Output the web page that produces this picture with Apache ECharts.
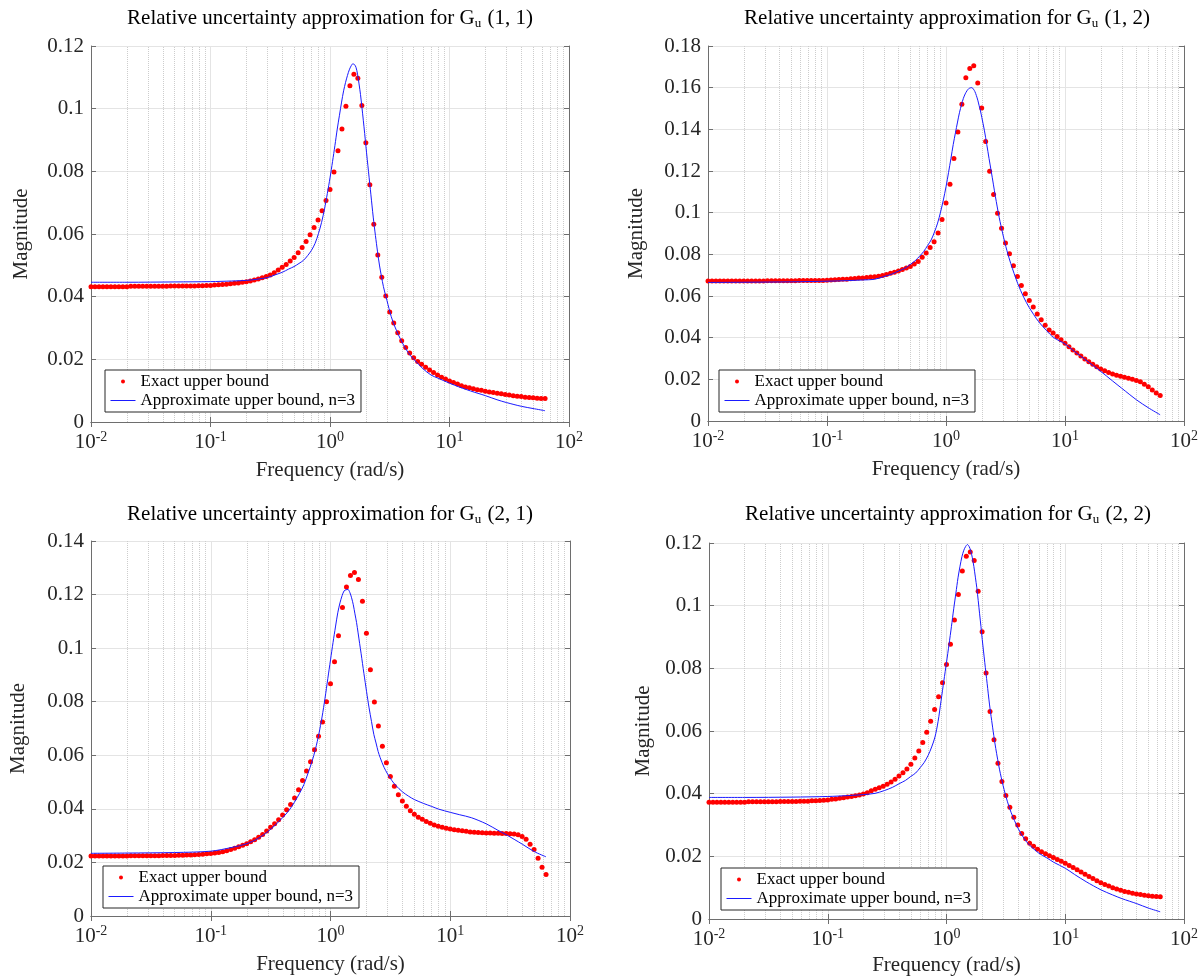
<!DOCTYPE html>
<html>
<head>
<meta charset="utf-8">
<script src="https://cdn.jsdelivr.net/npm/echarts@6/dist/echarts.min.js"></script>
<style>
html,body{margin:0;padding:0;background:#ffffff;}
#chart{width:1201px;height:979px;}
</style>
</head>
<body>
<div id="chart"></div>
<script>
// ---------- data ----------
// frequencies of the "exact" dots (rad/s)
const freqExact = [
0.01,0.0108,0.01166,0.01259,0.01359,0.01468,0.01585,0.01711,0.01848,0.01995,
0.02154,0.02326,0.02512,0.02712,0.02929,0.03162,0.03415,0.03687,0.03981,0.04299,
0.04642,0.05012,0.05412,0.05843,0.0631,0.06813,0.07356,0.07943,0.08577,0.09261,
0.1,0.108,0.1166,0.1259,0.1359,0.1468,0.1585,0.1711,0.1848,0.1995,
0.2154,0.2326,0.2512,0.2712,0.2929,0.3162,0.3415,0.3687,0.3981,0.4299,
0.4642,0.5012,0.5412,0.5843,0.631,0.6813,0.7356,0.7943,0.8577,0.9261,
1,1.08,1.166,1.259,1.359,1.468,1.585,1.711,1.848,1.995,
2.154,2.326,2.512,2.712,2.929,3.162,3.415,3.687,3.981,4.299,
4.642,5.012,5.412,5.843,6.31,6.813,7.356,7.943,8.577,9.261,
10,10.8,11.66,12.59,13.59,14.68,15.85,17.11,18.48,19.95,
21.54,23.26,25.12,27.12,29.29,31.62,34.15,36.87,39.81,42.99,
46.42,50.12,54.12,58.43,63.1
];
// frequencies of the approximation curve (rad/s)
const freqApprox = [
0.01,0.02,0.05,0.1,0.15,0.2,0.25,0.3,0.35,0.4,0.45,0.5,0.55,0.6,0.65,0.7,0.75,0.8,0.85,0.9,0.95,
1.0,1.05,1.1,1.15,1.2,1.25,1.3,1.35,1.4,1.45,1.5,1.55,1.6,1.65,1.7,1.75,1.8,1.85,1.9,1.95,2.0,
2.1,2.2,2.3,2.4,2.5,2.6,
2.8,3.0,3.25,3.5,
4,4.5,5,
6,7,8,
10,12,15,20,25,30,40,50,63
];

const exact11 = [
0.0432,0.0432,0.0432,0.0432,0.0432,0.0432,0.0432,0.0432,0.0432,0.0432,
0.0433,0.0433,0.0433,0.0433,0.0433,0.0433,0.0433,0.0433,0.0433,0.0433,
0.0434,0.0434,0.0434,0.0434,0.0434,0.0434,0.0434,0.0435,0.0435,0.0436,
0.0436,0.0437,0.0438,0.0439,0.0440,0.0441,0.0443,0.0444,0.0446,0.0448,
0.0450,0.0453,0.0456,0.0460,0.0464,0.0469,0.0476,0.0485,0.0494,0.0503,
0.0514,0.0525,0.0540,0.0557,0.0576,0.0598,0.0621,0.0645,0.0674,0.0707,
0.0742,0.0798,0.0866,0.0935,0.1008,0.1073,0.1110,0.1097,0.1010,0.0891,
0.0757,0.0631,0.0533,0.0462,0.0402,0.0351,0.0316,0.0285,0.0259,0.0238,
0.0220,0.0205,0.0193,0.0184,0.0175,0.0166,0.0158,0.0150,0.0143,0.0137,
0.0131,0.0126,0.0121,0.0116,0.0112,0.0109,0.0106,0.0103,0.0101,0.0098,
0.0096,0.0094,0.0092,0.0090,0.0088,0.0086,0.0084,0.0082,0.0081,0.0079,
0.0078,0.0077,0.0076,0.0075,0.0075
];
const exact12 = [
0.0672,0.0672,0.0672,0.0672,0.0672,0.0672,0.0672,0.0672,0.0672,0.0672,
0.0672,0.0672,0.0672,0.0672,0.0672,0.0673,0.0673,0.0673,0.0673,0.0673,
0.0673,0.0673,0.0673,0.0674,0.0674,0.0674,0.0674,0.0675,0.0675,0.0675,
0.0676,0.0677,0.0678,0.0679,0.0680,0.0681,0.0683,0.0684,0.0686,0.0687,
0.0689,0.0691,0.0693,0.0695,0.0699,0.0703,0.0709,0.0714,0.0720,0.0727,
0.0734,0.0742,0.0754,0.0766,0.0786,0.0807,0.0833,0.0861,0.0903,0.0967,
0.1047,0.1136,0.1260,0.1387,0.1520,0.1648,0.1692,0.1705,0.1623,0.1502,
0.1342,0.1199,0.1087,0.0997,0.0925,0.0855,0.0803,0.0745,0.0694,0.0650,
0.0611,0.0578,0.0547,0.0514,0.0486,0.0460,0.0437,0.0423,0.0406,0.0390,
0.0373,0.0357,0.0341,0.0326,0.0312,0.0298,0.0285,0.0272,0.0261,0.0250,
0.0241,0.0233,0.0226,0.0220,0.0215,0.0210,0.0205,0.0200,0.0195,0.0188,
0.0177,0.0164,0.0149,0.0135,0.0123
];
const exact21 = [
0.0224,0.0224,0.0224,0.0224,0.0224,0.0224,0.0224,0.0224,0.0224,0.0224,
0.0225,0.0225,0.0225,0.0225,0.0225,0.0225,0.0225,0.0225,0.0226,0.0226,
0.0226,0.0226,0.0227,0.0227,0.0228,0.0228,0.0229,0.0230,0.0231,0.0232,
0.0233,0.0235,0.0237,0.0240,0.0244,0.0248,0.0253,0.0259,0.0264,0.0270,
0.0277,0.0285,0.0294,0.0304,0.0317,0.0331,0.0344,0.0359,0.0377,0.0397,
0.0416,0.0441,0.0471,0.0506,0.0541,0.0576,0.0621,0.0671,0.0724,0.0800,
0.0867,0.0949,0.1046,0.1152,0.1228,0.1271,0.1282,0.1256,0.1175,0.1056,
0.0919,0.0799,0.0709,0.0634,0.0572,0.0521,0.0484,0.0453,0.0429,0.0410,
0.0393,0.0380,0.0369,0.0361,0.0353,0.0346,0.0340,0.0335,0.0331,0.0328,
0.0325,0.0322,0.0320,0.0318,0.0316,0.0314,0.0313,0.0312,0.0311,0.0310,
0.0310,0.0309,0.0309,0.0308,0.0308,0.0307,0.0306,0.0303,0.0297,0.0287,
0.0268,0.0248,0.0216,0.0182,0.0155
];
const exact22 = [
0.0373,0.0373,0.0373,0.0373,0.0373,0.0373,0.0373,0.0373,0.0373,0.0373,
0.0374,0.0374,0.0374,0.0374,0.0374,0.0374,0.0374,0.0374,0.0375,0.0375,
0.0375,0.0375,0.0375,0.0376,0.0376,0.0376,0.0377,0.0377,0.0378,0.0379,
0.0380,0.0382,0.0383,0.0385,0.0387,0.0389,0.0391,0.0393,0.0396,0.0399,
0.0403,0.0409,0.0414,0.0419,0.0424,0.0430,0.0437,0.0446,0.0456,0.0467,
0.0479,0.0494,0.0514,0.0536,0.0563,0.0596,0.0631,0.0669,0.0709,0.0754,
0.0812,0.0877,0.0954,0.1036,0.1111,0.1158,0.1171,0.1144,0.1046,0.0917,
0.0785,0.0662,0.0572,0.0497,0.0439,0.0394,0.0357,0.0325,0.0300,0.0273,
0.0256,0.0242,0.0232,0.0223,0.0215,0.0208,0.0202,0.0196,0.0190,0.0184,
0.0178,0.0171,0.0164,0.0157,0.0150,0.0143,0.0136,0.0129,0.0122,0.0116,
0.0110,0.0105,0.0100,0.0096,0.0092,0.0088,0.0085,0.0082,0.0080,0.0078,
0.0076,0.0074,0.0073,0.0072,0.0071
];

const approx11 = [
0.0446,0.0446,0.0447,0.0448,0.0450,0.0452,0.0456,0.0461,0.0470,0.0478,0.0488,0.0496,0.0506,0.0516,0.0531,0.0548,0.0570,0.0601,0.0637,0.0680,0.0729,
0.0779,0.0831,0.0883,0.0935,0.0979,0.1021,0.1057,0.1084,0.1106,0.1124,0.1136,0.1143,0.1141,0.1132,0.1110,0.1079,0.1045,0.1004,0.0963,0.0921,0.0878,
0.0799,0.0725,0.0654,0.0595,0.0543,0.0498,
0.0432,0.0387,0.0337,0.0303,
0.0255,0.0222,0.0201,
0.0170,0.0150,0.0140,
0.0124,0.0112,0.0099,0.0084,0.0071,0.0062,0.0050,0.0043,0.0036
];
const approx12 = [
0.0665,0.0666,0.0668,0.0671,0.0674,0.0677,0.0680,0.0693,0.0705,0.0720,0.0733,0.0751,0.0769,0.0791,0.0814,0.0842,0.0869,0.0907,0.0950,0.1003,0.1061,
0.1124,0.1192,0.1260,0.1327,0.1383,0.1435,0.1482,0.1518,0.1549,0.1570,0.1585,0.1595,0.1599,0.1600,0.1593,0.1581,0.1562,0.1540,0.1513,0.1488,0.1457,
0.1396,0.1328,0.1260,0.1198,0.1137,0.1078,
0.0977,0.0898,0.0818,0.0756,
0.0661,0.0594,0.0545,
0.0477,0.0434,0.0401,
0.0370,0.0334,0.0292,0.0238,0.0193,0.0157,0.0101,0.0064,0.0030
];
const approx21 = [
0.0234,0.0235,0.0237,0.0242,0.0256,0.0270,0.0290,0.0315,0.0342,0.0368,0.0394,0.0425,0.0457,0.0491,0.0534,0.0576,0.0624,0.0680,0.0743,0.0813,0.0887,
0.0956,0.1021,0.1079,0.1132,0.1169,0.1196,0.1214,0.1218,0.1219,0.1208,0.1188,0.1162,0.1128,0.1096,0.1057,0.1018,0.0981,0.0943,0.0906,0.0872,0.0838,
0.0777,0.0726,0.0678,0.0646,0.0614,0.0591,
0.0555,0.0530,0.0506,0.0488,
0.0463,0.0447,0.0435,
0.0420,0.0409,0.0399,
0.0387,0.0378,0.0367,0.0344,0.0320,0.0301,0.0268,0.0241,0.0221
];
const approx22 = [
0.0388,0.0388,0.0389,0.0391,0.0394,0.0397,0.0401,0.0410,0.0420,0.0432,0.0442,0.0455,0.0466,0.0483,0.0500,0.0522,0.0549,0.0581,0.0631,0.0697,0.0760,
0.0819,0.0876,0.0933,0.0990,0.1040,0.1089,0.1126,0.1157,0.1177,0.1189,0.1195,0.1189,0.1175,0.1153,0.1125,0.1091,0.1057,0.1016,0.0974,0.0934,0.0892,
0.0819,0.0751,0.0686,0.0634,0.0586,0.0544,
0.0476,0.0425,0.0376,0.0340,
0.0290,0.0257,0.0236,
0.0210,0.0195,0.0181,
0.0162,0.0142,0.0119,0.0093,0.0077,0.0065,0.0049,0.0035,0.0023
];

const panelLabels = ['(1, 1)', '(1, 2)', '(2, 1)', '(2, 2)'];
const yMaxList = [0.12, 0.18, 0.14, 0.12];
const yStep = 0.02;
const xDecades = [0.01, 0.1, 1, 10, 100];
const minorX = [0.02,0.03,0.04,0.05,0.06,0.07,0.08,0.09,
                0.2,0.3,0.4,0.5,0.6,0.7,0.8,0.9,
                2,3,4,5,6,7,8,9,
                20,30,40,50,60,70,80,90];
const legendNames = ['Exact upper bound', 'Approximate upper bound, n=3'];
const xName = 'Frequency (rad/s)';
const yName = 'Magnitude';
const titlePrefix = 'Relative uncertainty approximation for G';

const exactSets = [exact11, exact12, exact21, exact22];
const approxSets = [approx11, approx12, approx21, approx22];

// ---------- layout & style ----------
const FONT = '"Liberation Serif", "Times New Roman", serif';
const TXT = '#262626';
const BOX = '#6e6e6e';
const RED = '#ff0000';
const BLUE = '#1a1aff';
const panels = [
  { left: 91,  top: 46,  width: 478, height: 376, tx: 330, ty: 6,   lx: 105, ly: 370, yGap: 59, xGap: 38 },
  { left: 708, top: 46,  width: 478, height: 375, tx: 947, ty: 6,   lx: 719, ly: 370, yGap: 61, xGap: 38 },
  { left: 91,  top: 541, width: 479, height: 375, tx: 330, ty: 502, lx: 103, ly: 866, yGap: 62, xGap: 38 },
  { left: 709, top: 543, width: 479, height: 376, tx: 948, ty: 502, lx: 721, ly: 868, yGap: 55, xGap: 36 }
];

const grids = [], xAxes = [], yAxes = [], series = [], titles = [], legends = [];
const xMin = xDecades[0], xMax = xDecades[xDecades.length - 1];

panels.forEach((p, i) => {
  grids.push({ left: p.left, top: p.top, width: p.width, height: p.height, containLabel: false });
  titles.push({
    text: titlePrefix + '{sub|u} ' + panelLabels[i],
    left: p.tx, top: p.ty, textAlign: 'center', padding: 0,
    textStyle: {
      fontFamily: FONT, fontSize: 21, fontWeight: 'normal', color: '#000', lineHeight: 24,
      rich: { sub: { fontFamily: FONT, fontSize: 13, color: '#000', verticalAlign: 'bottom', lineHeight: 13, padding: [0, 1, 0, 0] } }
    }
  });
  xAxes.push({
    type: 'log', logBase: 10, gridIndex: i, min: xMin, max: xMax, splitNumber: 4,
    name: xName, nameLocation: 'middle', nameGap: p.xGap,
    nameTextStyle: { fontFamily: FONT, fontSize: 21, color: TXT },
    axisLine: { show: true, lineStyle: { color: BOX, width: 1 } },
    axisTick: { show: true, inside: true, length: 5, lineStyle: { color: BOX } },
    axisLabel: {
      margin: 8,
      formatter: v => '{b|10}{s|' + Math.round(Math.log10(v)) + '}',
      rich: {
        b: { fontFamily: FONT, fontSize: 21, color: TXT, lineHeight: 24 },
        s: { fontFamily: FONT, fontSize: 14, color: TXT, verticalAlign: 'top', lineHeight: 14 }
      }
    },
    splitLine: { show: true, lineStyle: { color: '#e4e4e4', width: 1 } }
  });
  yAxes.push({
    type: 'value', gridIndex: i, min: 0, max: yMaxList[i], interval: yStep,
    name: yName, nameLocation: 'middle', nameRotate: 90, nameGap: p.yGap,
    nameTextStyle: { fontFamily: FONT, fontSize: 21, color: TXT },
    axisLine: { show: true, lineStyle: { color: BOX, width: 1 } },
    axisTick: { show: true, inside: true, length: 5, lineStyle: { color: BOX } },
    axisLabel: { margin: 7, fontFamily: FONT, fontSize: 21, color: TXT },
    splitLine: { show: true, lineStyle: { color: '#e4e4e4', width: 1 } }
  });
  legends.push({
    orient: 'vertical', left: p.lx, top: p.ly, z: 10,
    itemWidth: 25, itemHeight: 4, itemGap: 2,
    padding: [3, 6, 3, 5],
    borderColor: '#262626', borderWidth: 1, backgroundColor: '#ffffff',
    selectedMode: false,
    lineStyle: { color: BLUE, width: 1 },
    textStyle: { fontFamily: FONT, fontSize: 17, color: '#000', lineHeight: 17 },
    data: [
      { name: legendNames[0], itemStyle: { color: RED, opacity: 1 } },
      { name: legendNames[1], itemStyle: { color: 'rgba(0,0,0,0)', borderWidth: 0 }, lineStyle: { color: BLUE, width: 1 } }
    ]
  });
});
// box: top and right axes (no labels)
panels.forEach((p, i) => {
  xAxes.push({
    type: 'log', logBase: 10, gridIndex: i, min: xMin, max: xMax, splitNumber: 4, position: 'top',
    axisLine: { show: true, lineStyle: { color: BOX, width: 1 } },
    axisTick: { show: true, inside: true, length: 5, lineStyle: { color: BOX } },
    axisLabel: { show: false }, splitLine: { show: false }
  });
  yAxes.push({
    type: 'value', gridIndex: i, min: 0, max: yMaxList[i], interval: yStep, position: 'right',
    axisLine: { show: true, lineStyle: { color: BOX, width: 1 } },
    axisTick: { show: true, inside: true, length: 5, lineStyle: { color: BOX } },
    axisLabel: { show: false }, splitLine: { show: false }
  });
});

panels.forEach((p, i) => {
  // minor (dotted) vertical grid of the log axis
  series.push({
    type: 'line', xAxisIndex: i, yAxisIndex: i, data: [], silent: true, z: 1,
    markLine: {
      silent: true, z: 1, symbol: ['none', 'none'], label: { show: false },
      lineStyle: { type: 'dotted', color: '#cdcdcd', width: 1 },
      emphasis: { disabled: true },
      data: minorX.map(v => ({ xAxis: v }))
    }
  });
  series.push({
    type: 'scatter', name: legendNames[0], xAxisIndex: i, yAxisIndex: i, z: 3,
    symbol: 'circle', symbolSize: 5, silent: true,
    itemStyle: { color: RED, opacity: 1 },
    data: freqExact.map((f, k) => [f, exactSets[i][k]])
  });
  series.push({
    type: 'line', name: legendNames[1], xAxisIndex: i, yAxisIndex: i, z: 4,
    showSymbol: false, symbol: 'none', smooth: 0.3, silent: true,
    lineStyle: { color: BLUE, width: 1 }, itemStyle: { color: BLUE },
    data: freqApprox.map((f, k) => [f, approxSets[i][k]])
  });
});

const chart = echarts.init(document.getElementById('chart'), null, { renderer: 'canvas' });
chart.setOption({
  animation: false,
  backgroundColor: '#ffffff',
  title: titles,
  legend: legends,
  grid: grids,
  xAxis: xAxes,
  yAxis: yAxes,
  series: series
});
</script>
</body>
</html>
